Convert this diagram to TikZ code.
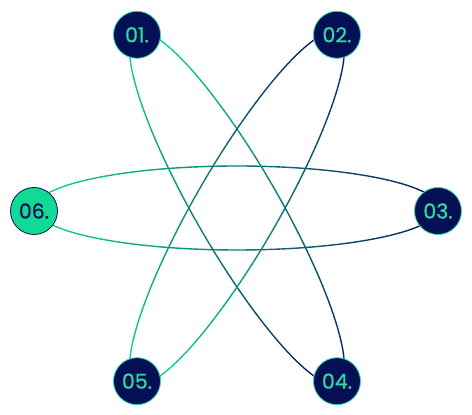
\documentclass[tikz,border=0pt]{standalone}
\usepackage{fontspec}
\setmainfont{Poppins}
\newfontfamily\numfont{Poppins}[FakeBold=0.6]
\usetikzlibrary{calc}
\definecolor{grn}{HTML}{12D993}
\definecolor{nvy}{HTML}{0A2060}
\definecolor{nodebg}{HTML}{050F55}
\definecolor{txtgrn}{HTML}{2EDDA0}
\tikzset{
  dot/.style={circle, minimum size=47pt, inner sep=0pt, line width=0.8pt, draw=txtgrn, fill=nodebg, text=txtgrn, font=\numfont\fontsize{20.5}{20.5}\selectfont},
  dotgreen/.style={dot, draw=nodebg, fill=grn, text=nodebg},
  orbit/.style={line width=1.4pt, line cap=round}
}
\begin{document}
\begin{tikzpicture}[x=1pt,y=1pt]
\useasboundingbox (0,0) rectangle (472,415);
\coordinate (c) at (237,207);
% orbits
\foreach \rot in {0,-60,60}{
  \begin{scope}[shift={(c)}, rotate=\rot]
    \foreach \t in {0,3,...,357}{
      \pgfmathsetmacro\p{50*(1-cos(\t+1.5))}
      \draw[orbit, color=grn!\p!nvy] (\t:202 and 42) arc[start angle=\t, end angle=\t+3, x radius=202, y radius=42];
    }
  \end{scope}
}
% nodes
\node[dot] (n3) at ($(c)+(0:201)+(0,-3)$) {03.};
\node[dot] (n2) at ($(c)+(60:200)$) {02.};
\node[dot] (n1) at ($(c)+(120:200)$) {01.};
\node[dotgreen] (n6) at ($(c)+(180:203)+(0,-3)$) {06.};
\node[dot] (n5) at ($(c)+(240:200)$) {05.};
\node[dot] (n4) at ($(c)+(300:200)$) {04.};
\end{tikzpicture}
\end{document}
